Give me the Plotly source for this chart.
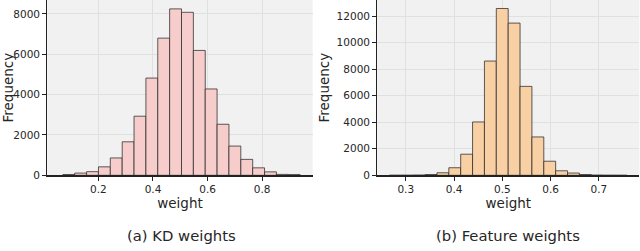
import plotly.graph_objects as go

# ---- data ----
kd_bin_centers = [0.0917, 0.1352, 0.1786, 0.2221, 0.2655, 0.3090, 0.3524, 0.3959, 0.4393, 0.4828,
                  0.5262, 0.5697, 0.6131, 0.6566, 0.7000, 0.7435, 0.7869, 0.8304, 0.8738, 0.9173]
kd_counts = [40, 110, 180, 420, 860, 1660, 2930, 4820, 6800, 8250,
             8080, 6190, 4280, 2530, 1450, 790, 370, 170, 45, 35]
kd_bin_width = 0.04345

feat_bin_centers = [0.2785, 0.3031, 0.3277, 0.3523, 0.3769, 0.4015, 0.4261, 0.4507, 0.4753, 0.4999,
                    0.5245, 0.5491, 0.5737, 0.5983, 0.6229, 0.6475, 0.6721, 0.6967, 0.7213, 0.7459]
feat_counts = [3, 6, 15, 60, 190, 570, 1590, 4020, 8610, 12570,
               11470, 6700, 2890, 1060, 340, 170, 60, 10, 4, 2]
feat_bin_width = 0.0246

kd_xticks = [0.2, 0.4, 0.6, 0.8]
kd_yticks = [0, 2000, 4000, 6000, 8000]
feat_xticks = [0.3, 0.4, 0.5, 0.6, 0.7]
feat_yticks = [0, 2000, 4000, 6000, 8000, 10000, 12000]

captions = ["(a) KD weights", "(b) Feature weights"]

# ---- figure ----
W, H = 640, 251
FONT = "DejaVu Sans"
TXT = "#262626"
BG = "rgb(241,241,241)"
GRID = "rgb(224,224,224)"
EDGE = "rgba(40,40,40,0.75)"

fig = go.Figure()
fig.add_trace(go.Bar(x=kd_bin_centers, y=kd_counts, width=kd_bin_width,
                     marker=dict(color="rgb(247,205,204)", line=dict(color=EDGE, width=1)),
                     xaxis="x", yaxis="y", showlegend=False))
fig.add_trace(go.Bar(x=feat_bin_centers, y=feat_counts, width=feat_bin_width,
                     marker=dict(color="rgb(248,208,164)", line=dict(color=EDGE, width=1)),
                     xaxis="x2", yaxis="y2", showlegend=False))

y_bottom = 1 - 175.3 / H

def xaxis(domain, rng, ticks, anchor):
    return dict(domain=domain, range=rng, tickvals=ticks,
                ticktext=[f"{t:g}" for t in ticks],
                showgrid=True, gridcolor=GRID, gridwidth=1, zeroline=False,
                showline=True, linecolor="#222", linewidth=1.2,
                ticks="outside", ticklen=4, tickcolor="#222",
                tickfont=dict(family=FONT, size=10.5, color=TXT),
                title=dict(text="weight", font=dict(family=FONT, size=13.5, color=TXT), standoff=3),
                anchor=anchor, automargin=False)

def yaxis(rng, ticks, anchor):
    return dict(domain=[y_bottom, 1], range=rng, tickvals=ticks,
                ticktext=[str(t) for t in ticks],
                showgrid=True, gridcolor=GRID, gridwidth=1, zeroline=False,
                showline=True, linecolor="#222", linewidth=1.2,
                ticks="outside", ticklen=4, tickcolor="#222",
                tickfont=dict(family=FONT, size=10.5, color=TXT),
                title=dict(text="Frequency", font=dict(family=FONT, size=13.5, color=TXT), standoff=3),
                anchor=anchor, automargin=False)

fig.update_layout(
    width=W, height=H,
    margin=dict(l=0, r=0, t=0, b=0, autoexpand=False),
    paper_bgcolor="white", plot_bgcolor=BG,
    bargap=0, hovermode=False,
    xaxis=xaxis([47.3 / W, 312.7 / W], [0.013, 0.985], kd_xticks, "y"),
    yaxis=yaxis([0, 8690], kd_yticks, "x"),
    xaxis2=xaxis([377.3 / W, 0.999], [0.241, 0.784], feat_xticks, "y2"),
    yaxis2=yaxis([0, 13210], feat_yticks, "x2"),
)

fig.add_annotation(text=captions[0], x=181 / W, y=1 - 235 / H, xref="paper", yref="paper",
                   showarrow=False, xanchor="center", yanchor="middle",
                   font=dict(family=FONT, size=14.8, color=TXT))
fig.add_annotation(text=captions[1], x=508 / W, y=1 - 235 / H, xref="paper", yref="paper",
                   showarrow=False, xanchor="center", yanchor="middle",
                   font=dict(family=FONT, size=14.8, color=TXT))

fig.write_html("out.html",
               config={"displayModeBar": False, "staticPlot": True},
               post_script="document.body.style.margin='0';document.body.style.overflow='hidden';")
